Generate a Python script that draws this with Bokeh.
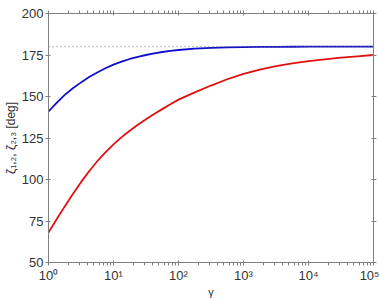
from bokeh.plotting import figure
from bokeh.models import LogAxis, LinearAxis, Span, FixedTicker, CustomJSTickFormatter
from bokeh.embed import file_html
from bokeh.resources import INLINE

gamma = [1, 1.334, 1.778, 2.371, 3.162, 4.217, 5.623, 7.499, 10, 13.34, 17.78, 23.71,
         31.62, 42.17, 56.23, 74.99, 100, 177.8, 316.2, 562.3, 1000, 1778, 3162, 5623,
         1e4, 17783, 31623, 56234, 1e5]
zeta_12 = [141, 146.2, 151, 155, 158.5, 161.7, 164.5, 167, 169.2, 171, 172.6, 173.9,
           175, 176, 176.8, 177.5, 178, 178.8, 179.3, 179.6, 179.8, 179.9, 179.95, 179.98,
           180, 180, 180, 180, 180]
zeta_23 = [68, 76, 83.8, 91.3, 98.4, 105, 111, 116.4, 121.2, 125.5, 129.4, 133,
           136.3, 139.4, 142.4, 145.3, 148.1, 152.5, 156.6, 160.4, 163.6, 166.2, 168.3, 170,
           171.3, 172.4, 173.4, 174.2, 175]
asymptote = 180
x_ticks = [1, 10, 100, 1000, 10000, 100000]
y_ticks = [50, 75, 100, 125, 150, 175, 200]
x_minor = [m * 10 ** k for k in range(5) for m in range(2, 10)]
x_label = "γ"
y_label = "ζ₁,₂, ζ₂,₃ [deg]"

FONT = "Liberation Sans"
AX = "#808080"
TXT = "#333333"

p = figure(width=379, height=300, x_axis_type="log", x_range=(1, 1e5), y_range=(50, 200),
           output_backend="svg", toolbar_location=None,
           min_border_left=10, min_border_right=6, min_border_top=13, min_border_bottom=37)
p.grid.visible = False
p.outline_line_color = AX
p.background_fill_color = "white"
p.border_fill_color = "white"

fmt = CustomJSTickFormatter(code="""
const sup = {'0':'\\u2070','1':'\\u00b9','2':'\\u00b2','3':'\\u00b3','4':'\\u2074','5':'\\u2075','6':'\\u2076','7':'\\u2077','8':'\\u2078','9':'\\u2079','-':'\\u207b'};
const e = Math.round(Math.log10(tick)).toString();
return '10' + e.split('').map(c => sup[c]).join('');
""")
blank = CustomJSTickFormatter(code="return '';")

def style(ax):
    ax.axis_line_color = AX
    ax.major_tick_line_color = AX
    ax.minor_tick_line_color = AX
    ax.major_tick_in = 2
    ax.major_tick_out = 3
    ax.minor_tick_in = 0
    ax.minor_tick_out = 3
    ax.major_label_text_font = FONT
    ax.major_label_text_font_size = "13px"
    ax.major_label_text_color = TXT
    ax.axis_label_text_font = FONT
    ax.axis_label_text_font_size = "12px"
    ax.axis_label_text_font_style = "normal"
    ax.axis_label_text_color = TXT

xa = p.xaxis[0]
style(xa)
xa.ticker = FixedTicker(ticks=x_ticks, minor_ticks=x_minor)
xa.formatter = fmt
xa.major_label_standoff = 2
xa.axis_label = x_label
xa.axis_label_text_font_size = "11px"
xa.axis_label_standoff = 0

ya = p.yaxis[0]
style(ya)
ya.ticker = FixedTicker(ticks=y_ticks)
ya.minor_tick_out = 0
ya.axis_label = y_label
ya.major_label_standoff = 2
ya.axis_label_standoff = 1

top = LogAxis(ticker=FixedTicker(ticks=x_ticks, minor_ticks=x_minor), formatter=blank)
style(top)
top.major_label_standoff = 0
p.add_layout(top, "above")
right = LinearAxis(ticker=FixedTicker(ticks=y_ticks), formatter=blank)
style(right)
right.major_label_standoff = 0
right.minor_tick_out = 0
p.add_layout(right, "right")

p.add_layout(Span(location=asymptote, dimension="width", line_color="#777777",
                  line_dash="1 3", line_width=1))
p.line(gamma, zeta_23, line_color="#e01010", line_width=1.8)
p.line(gamma, zeta_12, line_color="#1010c8", line_width=1.8)

open("out.html", "w").write(file_html(p, INLINE))
